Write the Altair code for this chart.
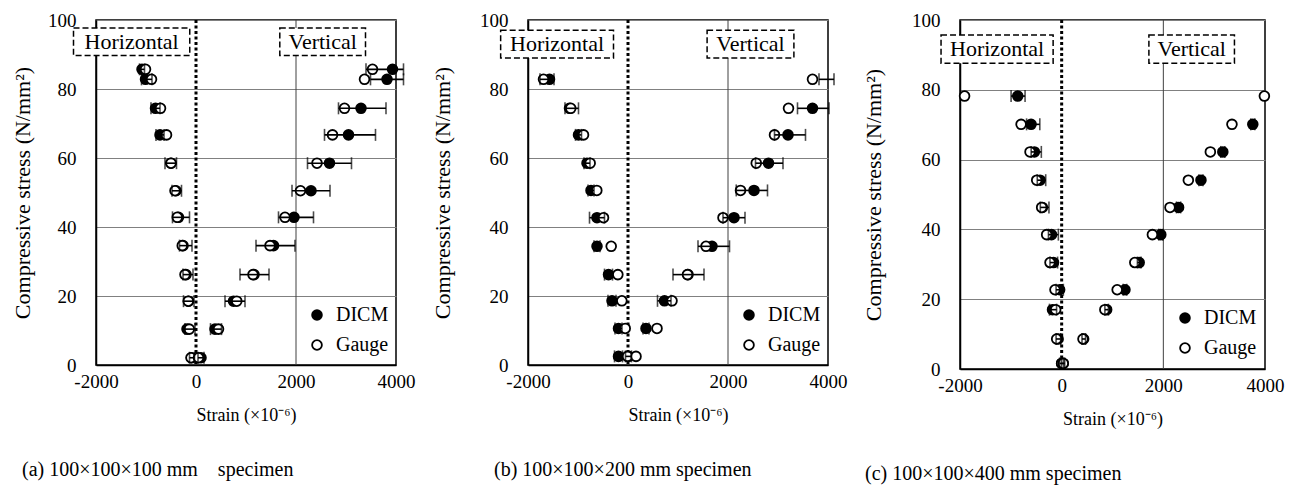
import altair as alt
import pandas as pd

FONT = "Liberation Serif"

# ---------------- data ----------------
# (a) 100x100x100 mm
a_stress = [85.7, 82.8, 74.4, 66.7, 58.5, 50.5, 42.8, 34.6, 26.2, 18.5, 10.4, 2.1]
a_hor_dicm = [-1080, -1010, -810, -720, -500, -400, -350, -260, -200, -150, -180, -90]
a_hor_lo = [-1130, -1090, -900, -800, -620, -480, -470, -330, -260, -250, -220, -130]
a_hor_hi = [-1030, -880, -720, -640, -390, -290, -130, -80, -60, -40, -20, -30]
a_hor_gauge = [-1010, -890, -710, -590, -500, -420, -375, -275, -220, -155, -135, -100]
a_ver_dicm = [3930, 3820, 3300, 3050, 2670, 2300, 1960, 1550, 1160, 750, 380, 100]
a_ver_lo = [3400, 3490, 2850, 2570, 2230, 1920, 1650, 1200, 880, 580, 290, 40]
a_ver_hi = [4150, 4150, 3800, 3590, 3110, 2680, 2350, 1980, 1460, 980, 510, 160]
a_ver_gauge = [3530, 3370, 2970, 2730, 2420, 2090, 1780, 1480, 1140, 815, 450, 50]

# (b) 100x100x200 mm
b_stress = [82.8, 74.4, 66.7, 58.5, 50.6, 42.7, 34.4, 26.2, 18.6, 10.6, 2.5]
b_hor_dicm = [-1570, -1170, -990, -820, -740, -620, -620, -390, -320, -190, -190]
b_hor_lo = [-1760, -1260, -1050, -880, -800, -770, -680, -470, -400, -260, -270]
b_hor_hi = [-1480, -990, -930, -760, -680, -470, -560, -310, -240, -120, -110]
b_hor_gauge = [-1690, -1145, -890, -757, -624, -490, -336, -203, -123, -56, -10]
b_ver_dicm = [None, 3690, 3200, 2810, 2520, 2120, 1680, 1200, 730, 360, 10]
b_ver_lo = [3820, 3390, 2930, 2550, 2165, 1900, 1400, 900, 590, 300, -50]
b_ver_hi = [4120, 4020, 3550, 3100, 2790, 2340, 2030, 1520, 860, 420, 70]
b_ver_gauge = [3690, 3210, 2930, 2565, 2250, 1900, 1560, 1190, 880, 580, 160]

# (c) 100x100x400 mm
c_stress = [78.2, 70.1, 62.2, 54.1, 46.3, 38.5, 30.5, 22.7, 17.0, 8.6, 1.6]
c_hor_dicm = [-864, -602, -537, -425, -380, -200, -160, -40, -180, -70, 0]
c_hor_lo = [-995, -690, -600, -480, -420, -260, -230, -110, -240, -110, -40]
c_hor_hi = [-720, -430, -400, -314, -250, -65, -80, 33, -100, -20, 40]
c_hor_gauge = [-1910, -798, -622, -491, -393, -295, -229, -131, -118, -98, 0]
c_ver_dicm = [None, 3760, 3170, 2740, 2300, 1950, 1525, 1245, 885, 432, 30]
c_ver_lo = [None, 3720, 3130, 2700, 2260, 1910, 1490, 1210, 850, 400, 0]
c_ver_hi = [None, 3800, 3210, 2780, 2340, 1990, 1560, 1280, 920, 470, 60]
c_ver_gauge = [3988, 3350, 2925, 2492, 2131, 1785, 1439, 1092, 850, 420, 30]

series_names = ["DICM", "Gauge"]
box_labels = ["Horizontal", "Vertical"]
x_ticks = [-2000, 0, 2000, 4000]
y_ticks = [0, 20, 40, 60, 80, 100]
captions = ["(a) 100\u00d7100\u00d7100 mm\u00a0\u00a0\u00a0\u00a0specimen",
            "(b) 100\u00d7100\u00d7200 mm specimen",
            "(c) 100\u00d7100\u00d7400 mm specimen"]
# label boxes: [x1, x2, y1, y2] for Horizontal, Vertical
a_boxes = [[-2450, -125, 89.7, 97.7], [1676, 3390, 89.7, 97.7]]
b_boxes = [[-2547, -290, 89.0, 97.0], [1582, 3318, 89.0, 97.0]]
c_boxes = [[-2373, -168, 87.6, 95.7], [1716, 3399, 87.6, 95.7]]


def points_df(stress, hd, hg, vd, vg):
    rows = []
    for name, hv, vv in (("DICM", hd, vd), ("Gauge", hg, vg)):
        for s, h, v in zip(stress, hv, vv):
            if h is not None:
                rows.append({"stress": s, "strain": h, "series": name})
            if v is not None:
                rows.append({"stress": s, "strain": v, "series": name})
    return pd.DataFrame(rows)


def err_df(stress, hlo, hhi, vlo, vhi):
    rows = []
    for s, a, b in zip(stress, hlo, hhi):
        if a is not None:
            rows.append({"stress": s, "lo": a, "hi": b})
    for s, a, b in zip(stress, vlo, vhi):
        if a is not None:
            rows.append({"stress": s, "lo": a, "hi": b})
    return pd.DataFrame(rows)


def boxes_df(boxes):
    rows = []
    for lab, (x1, x2, y1, y2) in zip(box_labels, boxes):
        rows.append({"x1": x1, "x2": x2, "y1": y1, "y2": y2,
                     "tx": (x1 + x2) / 2, "ty": (y1 + y2) / 2, "label": lab})
    return pd.DataFrame(rows)


def make_panel(pts, errs, boxes, width, height, caption, lx, ly, ytp, cap_dx):
    xs = alt.Scale(domain=[-2000, 4000], nice=False, zero=False)
    ys = alt.Scale(domain=[0, 100], nice=False, zero=False)
    xa = alt.Axis(values=x_ticks, labelExpr="'' + datum.value",
                  title="Strain (\u00d710\u207b\u2076)", grid=False,
                  ticks=False, labelPadding=7, titlePadding=15,
                  labelFlush=False, labelOverlap=False,
                  labelFont=FONT, titleFont=FONT,
                  labelFontSize=19, titleFontSize=18)
    ya = alt.Axis(values=y_ticks, grid=True, gridColor="#808080",
                  gridWidth=1, ticks=False, labelPadding=20,
                  labelFlush=False, labelOverlap=False,
                  labelFont=FONT, titleFont=FONT, labelFontSize=19,
                  title="Compressive stress (N/mm\u00b2)",
                  titleFontSize=22, titlePadding=ytp)

    def X(f):
        return alt.X(f, scale=xs, axis=xa)

    def Y(f):
        return alt.Y(f, scale=ys, axis=ya)

    pts_layer = alt.Chart(pts).mark_point(
        shape="circle", filled=True, size=95, stroke="black",
        strokeWidth=1.8, opacity=1
    ).encode(
        x=X("strain:Q"), y=Y("stress:Q"),
        fill=alt.Fill("series:N",
                      scale=alt.Scale(domain=series_names, range=["black", "white"]),
                      legend=alt.Legend(orient="none", legendX=lx, legendY=ly,
                                        title=None, labelFont=FONT,
                                        labelFontSize=20, labelColor="black",
                                        symbolType="circle", symbolSize=95,
                                        symbolStrokeColor="black",
                                        symbolStrokeWidth=1.8, rowPadding=10,
                                        labelOffset=9, padding=0)),
    )

    v2000 = alt.Chart(pd.DataFrame({"strain": [2000]})).mark_rule(
        color="#404040", strokeWidth=1
    ).encode(x=X("strain:Q"))

    zero = alt.Chart(pd.DataFrame({"strain": [0]})).mark_rule(
        color="black", strokeWidth=3, strokeDash=[3, 2.5]
    ).encode(x=X("strain:Q"))

    rect = alt.Chart(boxes).mark_rect(
        fill="white", stroke="black", strokeDash=[6, 3], strokeWidth=1.5
    ).encode(x=X("x1:Q"), x2="x2:Q", y=Y("y1:Q"), y2="y2:Q")

    txt = alt.Chart(boxes).mark_text(
        font=FONT, fontSize=22, color="black", align="center", baseline="middle"
    ).encode(x=X("tx:Q"), y=Y("ty:Q"), text="label:N")

    eb = alt.Chart(errs).mark_errorbar(
        ticks={"size": 12}, thickness=1.6, color="black"
    ).encode(x=X("lo:Q"), x2="hi:Q", y=Y("stress:Q"))

    return alt.layer(v2000, zero, rect, txt, pts_layer, eb).properties(
        width=width, height=height,
        title=alt.TitleParams(text=caption, orient="bottom", anchor="start",
                              frame="group", font=FONT, fontSize=20,
                              fontWeight="normal", color="black", offset=36,
                              dx=cap_dx))


pa = make_panel(points_df(a_stress, a_hor_dicm, a_hor_gauge, a_ver_dicm, a_ver_gauge),
                err_df(a_stress, a_hor_lo, a_hor_hi, a_ver_lo, a_ver_hi),
                boxes_df(a_boxes), 300, 345, captions[0], 211, 285, 13, -74)
pb = make_panel(points_df(b_stress, b_hor_dicm, b_hor_gauge, b_ver_dicm, b_ver_gauge),
                err_df(b_stress, b_hor_lo, b_hor_hi, b_ver_lo, b_ver_hi),
                boxes_df(b_boxes), 300, 345, captions[1], 211, 285, 25, -34)
pc = make_panel(points_df(c_stress, c_hor_dicm, c_hor_gauge, c_ver_dicm, c_ver_gauge),
                err_df(c_stress, c_hor_lo, c_hor_hi, c_ver_lo, c_ver_hi),
                boxes_df(c_boxes), 305, 349, captions[2], 215, 288, 26, -95)

chart = alt.hconcat(pa, pb, pc, spacing=132, bounds="flush").resolve_scale(
    fill="independent"
).properties(
    padding={"left": 2, "top": 2, "right": 2, "bottom": 2}
).configure(
    font=FONT
).configure_axis(
    labelFont=FONT, titleFont=FONT, labelFontSize=19, titleFontWeight="normal",
    labelColor="black", titleColor="black", domainColor="black", domainWidth=1.5
).configure_view(
    stroke="black", strokeWidth=1.5
)

chart.save("out.html", embed_options={"renderer": "svg", "actions": False})
